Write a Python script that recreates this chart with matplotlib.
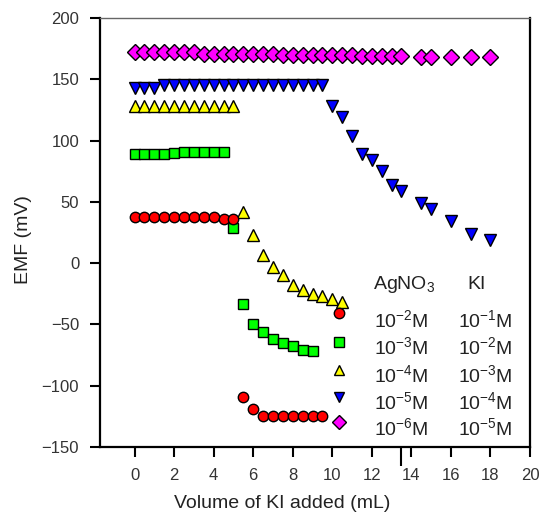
import matplotlib
matplotlib.use("Agg")
import matplotlib.pyplot as plt

plt.rcParams['font.family'] = ['Liberation Sans', 'DejaVu Sans']
plt.rcParams['mathtext.default'] = 'regular'

# EMF (mV) vs volume of KI added (mL), one series per concentration pair
x_red = [0, 0.5, 1.0, 1.5, 2.0, 2.5, 3.0, 3.5, 4.0, 4.5, 5.0,
         5.5, 6.0, 6.5, 7.0, 7.5, 8.0, 8.5, 9.0, 9.5]
y_red = [38, 38, 38, 38, 38, 38, 38, 38, 38, 36, 36,
         -109, -119, -125, -125, -125, -125, -125, -125, -125]

x_green = [0, 0.5, 1.0, 1.5, 2.0, 2.5, 3.0, 3.5, 4.0, 4.5,
           5.0, 5.5, 6.0, 6.5, 7.0, 7.5, 8.0, 8.5, 9.0]
y_green = [89, 89, 89, 89, 90, 91, 91, 91, 91, 91,
           29, -33, -50, -56, -62, -65, -68, -71, -72]

x_yellow = [0, 0.5, 1.0, 1.5, 2.0, 2.5, 3.0, 3.5, 4.0, 4.5, 5.0,
            5.5, 6.0, 6.5, 7.0, 7.5, 8.0, 8.5, 9.0, 9.5, 10.0, 10.5]
y_yellow = [128, 128, 128, 128, 128, 128, 128, 128, 128, 128, 128,
            42, 23, 7, -3, -10, -18, -22, -25, -27, -29, -32]

x_blue = [0, 0.5, 1.0, 1.5, 2.0, 2.5, 3.0, 3.5, 4.0, 4.5, 5.0, 5.5, 6.0, 6.5,
          7.0, 7.5, 8.0, 8.5, 9.0, 9.5, 10.0, 10.5, 11.0, 11.5, 12.0, 12.5,
          13.0, 13.5, 14.5, 15.0, 16.0, 17.0, 18.0]
y_blue = [143, 143, 143, 145, 145, 145, 145, 145, 145, 145, 145, 145, 145, 145,
          145, 145, 145, 145, 145, 145, 128, 119, 104, 89, 84, 75,
          64, 59, 49, 44, 34, 24, 19]

x_magenta = [0, 0.5, 1.0, 1.5, 2.0, 2.5, 3.0, 3.5, 4.0, 4.5, 5.0, 5.5, 6.0, 6.5,
             7.0, 7.5, 8.0, 8.5, 9.0, 9.5, 10.0, 10.5, 11.0, 11.5, 12.0, 12.5,
             13.0, 13.5, 14.5, 15.0, 16.0, 17.0, 18.0]
y_magenta = [172, 172, 172, 172, 172, 172, 172, 171, 171, 171, 171, 171, 171, 171,
             171, 170, 170, 170, 170, 170, 170, 170, 170, 169, 169, 169,
             169, 169, 168, 168, 168, 168, 168]

agno3_labels = ['10$^{-2}$M', '10$^{-3}$M', '10$^{-4}$M', '10$^{-5}$M', '10$^{-6}$M']
ki_labels = ['10$^{-1}$M', '10$^{-2}$M', '10$^{-3}$M', '10$^{-4}$M', '10$^{-5}$M']

series = [
    (x_magenta, y_magenta, 'D', '#ff00ff', 8.5),
    (x_blue, y_blue, 'v', '#0000ff', 8),
    (x_yellow, y_yellow, '^', '#ffff00', 8),
    (x_green, y_green, 's', '#00ff00', 7.5),
    (x_red, y_red, 'o', '#ff0000', 7.5),
]

fig = plt.figure(figsize=(5.41, 5.20), dpi=100)
ax = fig.add_axes([100 / 541, 73 / 520, 430 / 541, 429 / 520])

for xs, ys, m, c, ms in series:
    ax.plot(xs, ys, linestyle='none', marker=m, markersize=ms,
            markerfacecolor=c, markeredgecolor='black', markeredgewidth=1)

# legend drawn as a small table: markers + two text columns
legend_order = ['#ff0000', '#00ff00', '#ffff00', '#0000ff', '#ff00ff']
legend_markers = ['o', 's', '^', 'v', 'D']
marker_y = [0.312, 0.245, 0.179, 0.117, 0.058]
text_y = [0.295, 0.232, 0.167, 0.105, 0.045]
for i in range(5):
    ax.plot([0.556], [marker_y[i]], transform=ax.transAxes, linestyle='none',
            marker=legend_markers[i], markersize=7.5,
            markerfacecolor=legend_order[i], markeredgecolor='black',
            markeredgewidth=1, clip_on=False)
    ax.text(0.637, text_y[i], agno3_labels[i], transform=ax.transAxes,
            fontsize=14, va='center', ha='left', color='#222222')
    ax.text(0.833, text_y[i], ki_labels[i], transform=ax.transAxes,
            fontsize=14, va='center', ha='left', color='#222222')
ax.text(0.635, 0.378, 'AgNO$_3$', transform=ax.transAxes, fontsize=14,
        va='center', ha='left', color='#222222')
ax.text(0.855, 0.378, 'KI', transform=ax.transAxes, fontsize=14,
        va='center', ha='left', color='#222222')

ax.set_xlim(-1.75, 20)
ax.set_ylim(-150, 200)
ax.set_xticks(range(0, 21, 2))
ax.set_yticks(range(-150, 201, 50))
ax.set_xticks([13.5], minor=True)
ax.tick_params(which='major', direction='out', length=7, width=1.5,
               labelsize=12, pad=8, labelcolor='#333333')
ax.tick_params(axis='x', which='minor', direction='out', length=14, width=1.5)

for side in ['left', 'bottom', 'right']:
    ax.spines[side].set_linewidth(1.6)
    ax.spines[side].set_color('black')
ax.spines['top'].set_linewidth(1)
ax.spines['top'].set_color('#666666')

ax.set_xlabel('Volume of KI added (mL)', fontsize=14, color='#222222')
ax.xaxis.set_label_coords(0.423, -0.112)
ax.set_ylabel('EMF (mV)', fontsize=14, color='#222222')
ax.yaxis.set_label_coords(-0.158, 0.4825)

fig.savefig('out.png', dpi=100)
